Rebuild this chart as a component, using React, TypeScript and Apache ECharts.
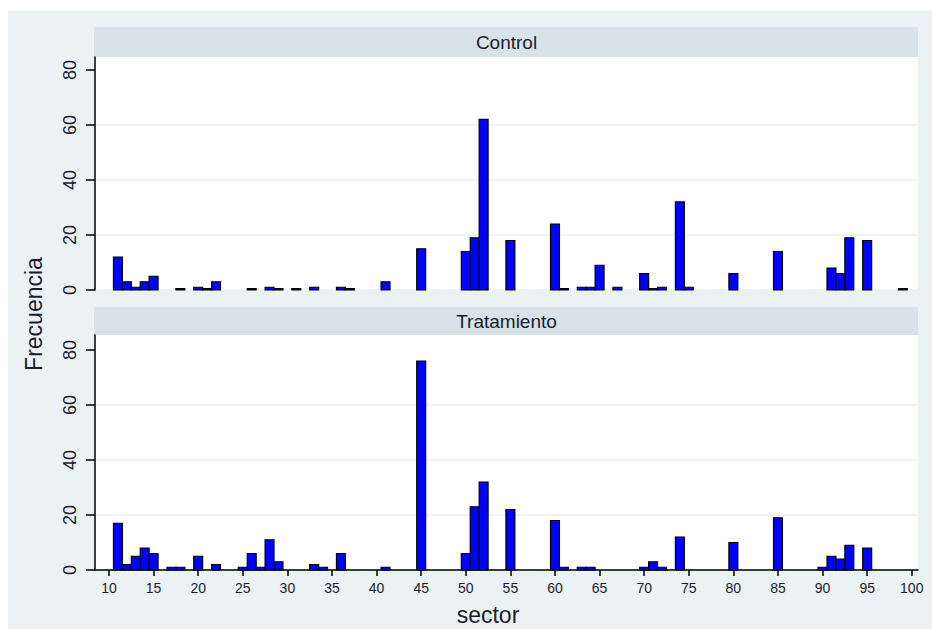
import React, { useEffect, useRef } from "react";
import * as echarts from "echarts";

const panelTitles = ["Control", "Tratamiento"];
const controlSectors = [11, 12, 13, 14, 15, 18, 20, 21, 22, 26, 28, 29, 31, 33, 36, 37, 41, 45, 50, 51, 52, 55, 60, 61, 63, 64, 65, 67, 70, 71, 72, 74, 75, 80, 85, 91, 92, 93, 95, 99];
const controlFreq = [12, 3, 1, 3, 5, 0.5, 1, 0.5, 3, 0.5, 1, 0.5, 0.5, 1, 1, 0.5, 3, 15, 14, 19, 62, 18, 24, 0.5, 1, 1, 9, 1, 6, 0.5, 1, 32, 1, 6, 14, 8, 6, 19, 18, 0.5];
const tratSectors = [11, 12, 13, 14, 15, 17, 18, 20, 22, 25, 26, 27, 28, 29, 33, 34, 36, 41, 45, 50, 51, 52, 55, 60, 61, 63, 64, 70, 71, 72, 74, 80, 85, 90, 91, 92, 93, 95];
const tratFreq = [17, 2, 5, 8, 6, 1, 1, 5, 2, 1, 6, 1, 11, 3, 2, 1, 6, 1, 76, 6, 23, 32, 22, 18, 1, 1, 1, 1, 3, 1, 12, 10, 19, 1, 5, 4, 9, 8];
const xTicks = [10, 15, 20, 25, 30, 35, 40, 45, 50, 55, 60, 65, 70, 75, 80, 85, 90, 95, 100];
const yTicks = [0, 20, 40, 60, 80];

const FONT = "'Liberation Sans', Arial, sans-serif";
const TXT = "#1c1c30";

export default function App() {
  const ref = useRef<HTMLDivElement>(null);
  useEffect(() => {
    if (!ref.current) return;
    const chart = echarts.init(ref.current, null, { renderer: "svg" });
    const grids = [
      { left: 95, top: 57, width: 823, height: 233 },
      { left: 95, top: 335, width: 823, height: 235 },
    ];
    const yMax = [84.7, 85.45];
    const renderItem = (params: any, api: any) => {
      const x = api.value(0);
      const y = api.value(1);
      const p0 = api.coord([x - 0.5, 0]);
      const p1 = api.coord([x + 0.5, y]);
      return {
        type: "rect",
        shape: { x: p0[0], y: p1[1], width: p1[0] - p0[0], height: p0[1] - p1[1] },
        style: { fill: "#0000ff", stroke: "#000", lineWidth: 1.2 },
      };
    };
    const strips = [
      { y: 27, h: 30 },
      { y: 307, h: 28 },
    ];
    const option: any = {
      animation: false,
      backgroundColor: "#ffffff",
      grid: grids.map((g) => ({ ...g, show: true, backgroundColor: "#ffffff", borderWidth: 0 })),
      xAxis: grids.map((_, i) => ({
        gridIndex: i,
        type: "value",
        min: 8.43,
        max: 100.7,
        show: i === 1,
        axisLine: { show: true, onZero: false, lineStyle: { color: "#000", width: 1.5 } },
        axisTick: { show: true, length: 6, customValues: xTicks, lineStyle: { color: "#000", width: 1.5 } },
        axisLabel: { show: true, customValues: xTicks, fontSize: 14, color: TXT, fontFamily: FONT, margin: 11 },
        splitLine: { show: false },
      })),
      yAxis: grids.map((_, i) => ({
        gridIndex: i,
        type: "value",
        min: 0,
        max: yMax[i],
        interval: 20,
        axisLine: { show: true, lineStyle: { color: "#000", width: 1.5 } },
        axisTick: { show: true, length: 9, customValues: yTicks, lineStyle: { color: "#000", width: 1.5 } },
        axisLabel: { show: true, rotate: 90, customValues: yTicks, fontSize: 18, color: TXT, fontFamily: FONT, margin: 16 },
        splitLine: { show: true, showMaxLine: false, lineStyle: { color: "#eaf2f3", width: 1.5 } },
      })),
      series: [
        {
          type: "custom",
          xAxisIndex: 0,
          yAxisIndex: 0,
          renderItem,
          data: controlSectors.map((s, i) => [s, controlFreq[i]]),
        },
        {
          type: "custom",
          xAxisIndex: 1,
          yAxisIndex: 1,
          renderItem,
          data: tratSectors.map((s, i) => [s, tratFreq[i]]),
        },
      ],
      graphic: [
        { type: "rect", z: -10, shape: { x: 8, y: 11, width: 924, height: 618 }, style: { fill: "#eaf2f3" } },
        ...strips.map((s, i) => ({
          type: "rect",
          z: -5,
          shape: { x: 94, y: s.y, width: 824, height: s.h },
          style: { fill: "#d7e3e9" },
        })),
        ...strips.map((s, i) => ({
          type: "text",
          x: 506.5,
          y: s.y + s.h / 2,
          style: { text: panelTitles[i], fill: TXT, font: `19px ${FONT}`, textAlign: "center", textVerticalAlign: "middle" },
        })),
        {
          type: "text",
          x: 34,
          y: 314,
          rotation: Math.PI / 2,
          style: { text: "Frecuencia", fill: TXT, font: `23px ${FONT}`, textAlign: "center", textVerticalAlign: "middle" },
        },
        {
          type: "text",
          x: 488,
          y: 615,
          style: { text: "sector", fill: TXT, font: `23px ${FONT}`, textAlign: "center", textVerticalAlign: "middle" },
        },
      ],
    };
    chart.setOption(option);
    return () => chart.dispose();
  }, []);
  return (
    <div
      ref={ref}
      style={{ position: "absolute", left: 0, top: 0, width: 932, height: 629 }}
    />
  );
}
